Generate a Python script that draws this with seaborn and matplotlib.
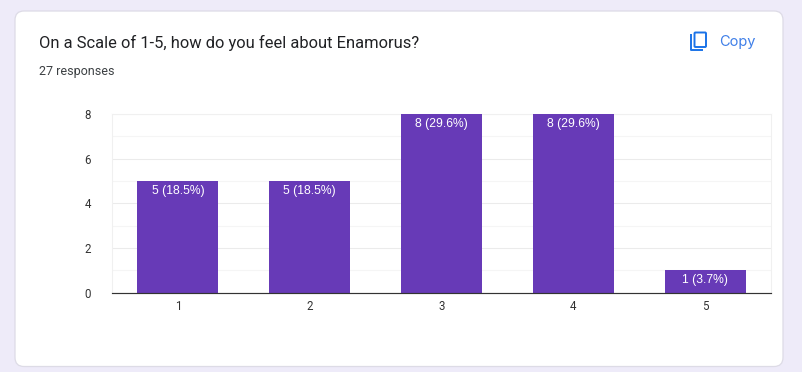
import pandas as pd
import seaborn as sns
import matplotlib.pyplot as plt
from matplotlib.patches import FancyBboxPatch

# data
categorias = ["1", "2", "3", "4", "5"]
respostas = [5, 5, 8, 8, 1]
rotulos = ["5 (18.5%)", "5 (18.5%)", "8 (29.6%)", "8 (29.6%)", "1 (3.7%)"]
y_ticks = [0, 2, 4, 6, 8]
y_minor = [1, 3, 5, 7]

titulo = "On a Scale of 1-5, how do you feel about Enamorus?"
subtitulo = "27 responses"

df = pd.DataFrame({"categoria": categorias, "respostas": respostas})

W, H = 803, 372
plt.rcParams["font.family"] = ["Roboto", "DejaVu Sans"]

fig = plt.figure(figsize=(W / 100, H / 100), dpi=100, facecolor="#EEEBF9")

# camada de fundo em pixels
bg = fig.add_axes([0, 0, 1, 1], zorder=0)
bg.set_xlim(0, W)
bg.set_ylim(H, 0)
bg.axis("off")
bg.add_patch(FancyBboxPatch((15, 11), 768, 355.5, boxstyle="round,pad=0,rounding_size=9",
                            fc="white", ec="#DDDBE6", lw=0.9))
bg.text(39, 42.5, titulo, fontsize=11.85, color="#202124", va="center", ha="left")
bg.text(39, 71, subtitulo, fontsize=9, color="#3C4043", va="center", ha="left")
bg.text(719.5, 42, "Copy", fontsize=10.5, color="#3F7FE8", va="center", ha="left",
        family=["Inter", "DejaVu Sans"])

# icone de copiar
azul = "#1A73E8"
bg.add_patch(FancyBboxPatch((694.5, 32.5), 11.5, 14.5, boxstyle="round,pad=0,rounding_size=1",
                            fc="none", ec=azul, lw=1.4))
bg.plot([691, 691, 703], [34, 50, 50], color=azul, lw=1.4, solid_capstyle="butt",
        solid_joinstyle="round")

# grafico
ax = fig.add_axes([112 / W, 1 - 292.5 / H, 659 / W, 178.5 / H], zorder=1)
ax.patch.set_alpha(0)
sns.barplot(data=df, x="categoria", y="respostas", color="#673AB7", saturation=1,
            width=0.615, ax=ax, zorder=3)
ax.set_xlim(-0.5, 4.5)
ax.set_ylim(0, 8)
ax.set_xlabel("")
ax.set_ylabel("")

ax.set_yticks(y_ticks)
ax.set_yticks(y_minor, minor=True)
ax.tick_params(axis="both", which="both", length=0)
ax.tick_params(axis="both", labelsize=8.3, labelcolor="#333333")
ax.tick_params(axis="x", pad=5.5)
ax.tick_params(axis="y", pad=15)
ax.grid(axis="y", which="major", color="#EBEBEB", lw=0.75, zorder=0)
ax.grid(axis="y", which="minor", color="#F5F5F5", lw=0.75, zorder=0)
ax.set_axisbelow(True)

for lado in ["top", "left", "right"]:
    ax.spines[lado].set_color("#F0F0F0")
    ax.spines[lado].set_linewidth(0.75)
ax.spines["bottom"].set_color("#333333")
ax.spines["bottom"].set_linewidth(0.85)
ax.spines["bottom"].set_zorder(5)

ax.bar_label(ax.containers[0], labels=rotulos, label_type="edge", padding=-11.5,
             color="white", fontsize=8.7, family=["Liberation Sans", "DejaVu Sans"])

fig.savefig("out.png", dpi=100, facecolor=fig.get_facecolor())
